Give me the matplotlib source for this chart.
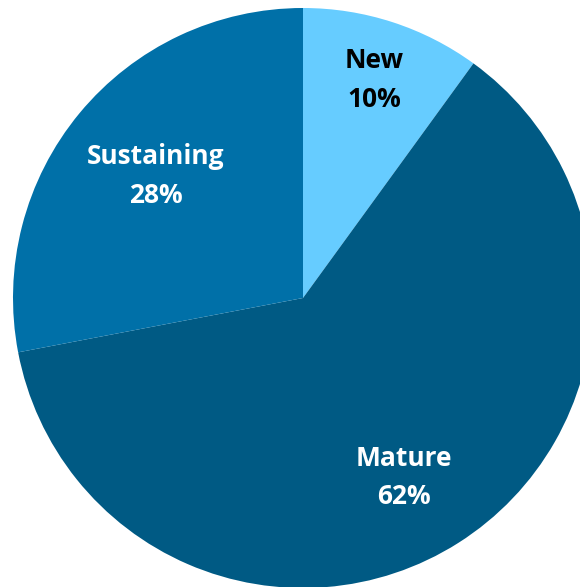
import matplotlib.pyplot as plt
import numpy as np

# segment shares (percent), clockwise from 12 o'clock
segments = ['New', 'Mature', 'Sustaining']
shares = [10, 62, 28]
colors = ['#66CCFF', '#005A84', '#0070A8']
text_colors = ['black', 'white', 'white']
label_radius = [0.79, 0.71, 0.66]
label_shift = [0, -3, 0]   # degrees, nudges label around the centre

fig = plt.figure(figsize=(5.80, 5.87), dpi=100)
# pie circle: centre ~(303, 298) px from top-left, radius ~290 px
r_px = 290
cx, cy = 303, 587 - 298
ax = fig.add_axes([(cx - r_px) / 580, (cy - r_px) / 587, 2 * r_px / 580, 2 * r_px / 587])

wedges, _ = ax.pie(shares, colors=colors, startangle=90, counterclock=False,
                   radius=1, wedgeprops=dict(linewidth=0))
ax.set_xlim(-1, 1)
ax.set_ylim(-1, 1)
ax.set_aspect('equal')
ax.axis('off')

for w, name, val, tc, lr, sh in zip(wedges, segments, shares, text_colors,
                                    label_radius, label_shift):
    ang = np.deg2rad((w.theta1 + w.theta2) / 2 + sh)
    ax.text(lr * np.cos(ang), lr * np.sin(ang), f'{name}\n{val}%',
            ha='center', va='center', color=tc, fontsize=19, fontweight='bold',
            family='Open Sans', linespacing=1.55, clip_on=False)

fig.savefig('out.png', dpi=100)
